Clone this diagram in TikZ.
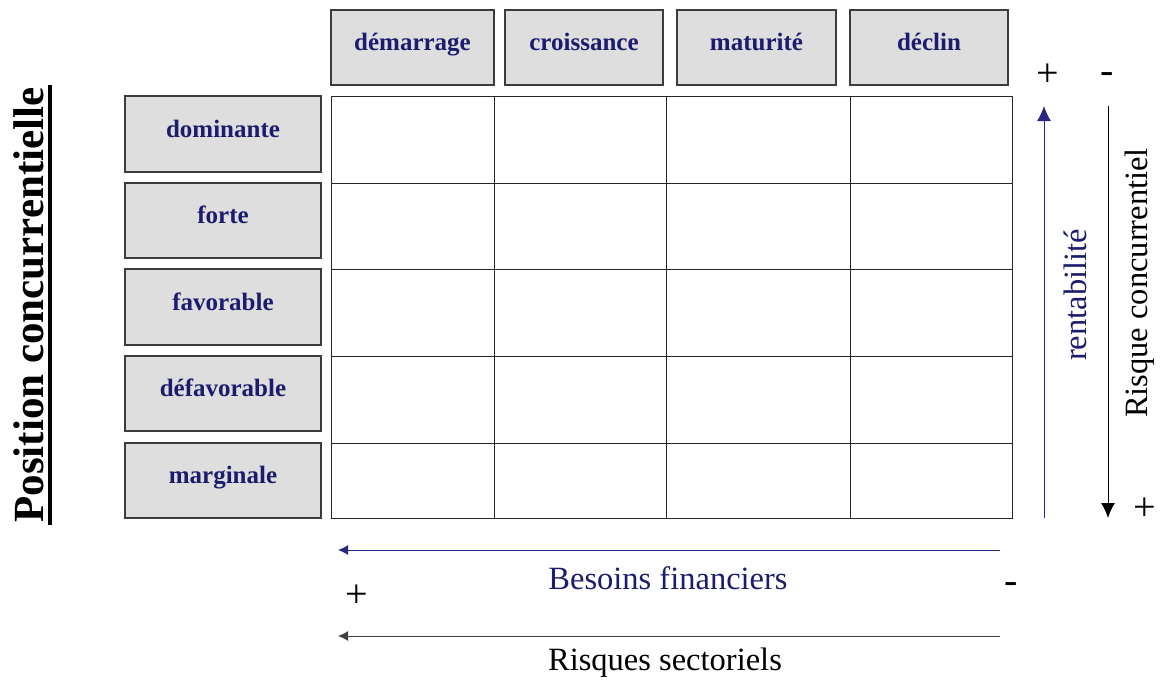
\documentclass[tikz,border=0pt]{standalone}
\usepackage{fontspec}
\setmainfont{Liberation Serif}
\usetikzlibrary{arrows.meta}
\definecolor{navy}{RGB}{28,28,110}
\definecolor{arrnavy}{RGB}{40,40,130}
\definecolor{boxgray}{RGB}{222,222,222}
\definecolor{edgegray}{RGB}{60,60,60}
\tikzset{
  hdr/.style={draw=edgegray, line width=1.4pt, fill=boxgray, inner sep=0pt,
    font=\fontsize{25}{27}\selectfont\bfseries, text=navy,
    text height=12pt, text depth=6pt},
  lab/.style={font=\fontsize{32.5}{34}\selectfont, inner sep=0pt},
  sgn/.style={font=\fontsize{40}{42}\selectfont, inner sep=0pt},
  bigarrow/.style={line width=1pt, -{Latex[length=15pt,width=14pt]}},
  harrow/.style={line width=1pt, -{Latex[length=10pt,width=10pt]}}
}
\begin{document}
\begin{tikzpicture}[x=1pt,y=-1pt]
\useasboundingbox (0,0) rectangle (1165,681);
% column headers
\node[hdr, minimum width=163pt, minimum height=75pt] (h1) at (412.5,47.5) {démarrage};
\node[hdr, minimum width=158pt, minimum height=75pt] (h2) at (584,47.5) {croissance};
\node[hdr, minimum width=159pt, minimum height=75pt] (h3) at (756.5,47.5) {maturité};
\node[hdr, minimum width=158pt, minimum height=75pt] (h4) at (929,47.5) {déclin};
% row headers
\node[hdr, minimum width=196pt, minimum height=76pt] (r1) at (223,134) {dominante};
\node[hdr, minimum width=196pt, minimum height=75pt] (r2) at (223,220.5) {forte};
\node[hdr, minimum width=196pt, minimum height=76pt] (r3) at (223,307) {favorable};
\node[hdr, minimum width=196pt, minimum height=75pt] (r4) at (223,393.5) {défavorable};
\node[hdr, minimum width=196pt, minimum height=75pt] (r5) at (223,480.5) {marginale};
% grid
\draw[line width=1pt, black!85] (331,96) rectangle (1012,518);
\foreach \x in {494,666,850} \draw[line width=1pt, black!85] (\x,96) -- (\x,518);
\foreach \y in {183,269,356,443} \draw[line width=1pt, black!85] (331,\y) -- (1012,\y);
% title
\node[rotate=90, font=\fontsize{43}{45}\selectfont\bfseries, inner sep=0pt] (title) at (29,305) {Position concurrentielle};
\draw[line width=4pt] (50,85) -- (50,525);
% vertical arrows
\coordinate (rb) at (1044,518);
\coordinate (rt) at (1044,106);
\draw[bigarrow, arrnavy] (rb) -- (rt);
\node[lab, rotate=90, text=navy] (rent) at (1075,295) {rentabilité};
\coordinate (kt) at (1108,106);
\coordinate (kb) at (1108,518);
\draw[bigarrow, black] (kt) -- (kb);
\node[lab, rotate=90] (risq) at (1140,283) {Risque concurrentiel};
\node[sgn] (p1) at (1048,75) {+};
\node[sgn] (m1) at (1107,78) {-};
\node[sgn] (p2) at (1145,509) {+};
% horizontal arrows
\coordinate (br) at (1000,550);
\coordinate (bl) at (338,550);
\draw[harrow, arrnavy] (br) -- (bl);
\node[lab, text=navy] (bes) at (668,578) {Besoins financiers};
\node[sgn] (p3) at (357,596) {+};
\node[sgn] (m2) at (1011,588) {-};
\coordinate (sr) at (1000,636);
\coordinate (sl) at (338,636);
\draw[harrow, black!75] (sr) -- (sl);
\node[lab] (sect) at (665,663) {Risques sectoriels};
\end{tikzpicture}
\end{document}
